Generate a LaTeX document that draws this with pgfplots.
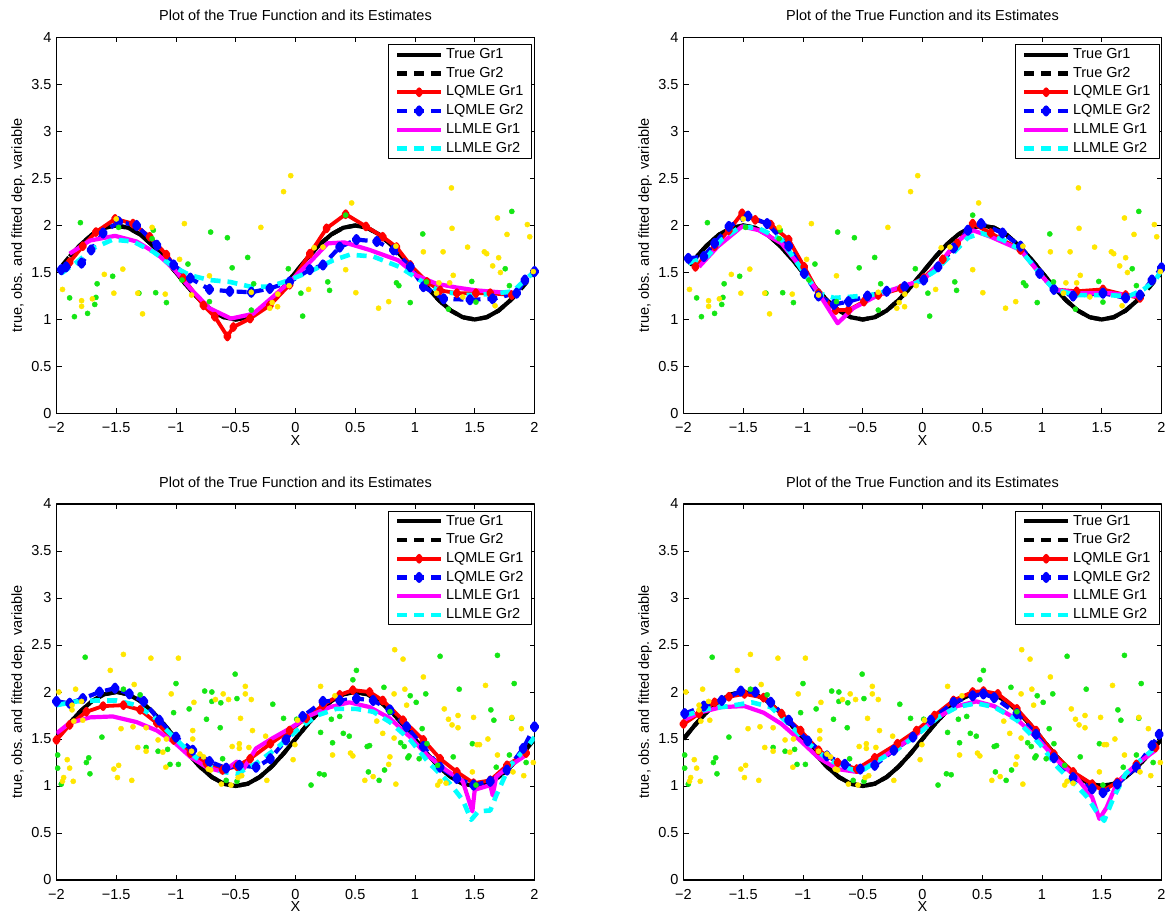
\documentclass[border=0pt]{standalone}
\usepackage{fontspec}
\setmainfont{Liberation Sans}
\usepackage{pgfplots}
\usepackage{pgfplotstable}
\pgfplotsset{compat=1.18}

\definecolor{ptgreen}{RGB}{20,230,20}
\definecolor{ptyellow}{RGB}{255,230,0}
\definecolor{lnred}{RGB}{255,0,0}
\definecolor{lnblue}{RGB}{0,0,255}
\definecolor{lnmag}{RGB}{255,0,255}
\definecolor{lncyan}{RGB}{0,255,255}

% true function, upper row (sample 1 and sample 2 cover slightly different x ranges)
\pgfplotstableread{
x y
-1.89 1.669
-1.8 1.794
-1.7 1.905
-1.6 1.976
-1.5 2.0
-1.4 1.976
-1.3 1.905
-1.2 1.794
-1.1 1.655
-1.0 1.5
-0.9 1.345
-0.8 1.206
-0.7 1.095
-0.6 1.024
-0.5 1.0
-0.4 1.024
-0.3 1.095
-0.2 1.206
-0.1 1.345
0 1.5
0.1 1.655
0.2 1.794
0.3 1.905
0.4 1.976
0.5 2.0
0.6 1.976
0.7 1.905
0.8 1.794
0.9 1.655
1.0 1.5
1.1 1.345
1.2 1.206
1.3 1.095
1.4 1.024
1.5 1.0
1.6 1.024
1.7 1.095
1.8 1.206
1.85 1.273
}\trueTopA
\pgfplotstableread{
x y
-1.95 1.578
-1.9 1.655
-1.8 1.794
-1.7 1.905
-1.6 1.976
-1.5 2.0
-1.4 1.976
-1.3 1.905
-1.2 1.794
-1.1 1.655
-1.0 1.5
-0.9 1.345
-0.8 1.206
-0.7 1.095
-0.6 1.024
-0.5 1.0
-0.4 1.024
-0.3 1.095
-0.2 1.206
-0.1 1.345
0 1.5
0.1 1.655
0.2 1.794
0.3 1.905
0.4 1.976
0.5 2.0
0.6 1.976
0.7 1.905
0.8 1.794
0.9 1.655
1.0 1.5
1.1 1.345
1.2 1.206
1.3 1.095
1.4 1.024
1.5 1.0
1.6 1.024
1.7 1.095
1.8 1.206
1.9 1.345
1.99 1.484
}\trueTopB
\pgfplotstableread{
x y
-2.0 1.5
-1.9 1.655
-1.8 1.794
-1.7 1.905
-1.6 1.976
-1.5 2.0
-1.4 1.976
-1.3 1.905
-1.2 1.794
-1.1 1.655
-1.0 1.5
-0.9 1.345
-0.8 1.206
-0.7 1.095
-0.6 1.024
-0.5 1.0
-0.4 1.024
-0.3 1.095
-0.2 1.206
-0.1 1.345
0 1.5
0.1 1.655
0.2 1.794
0.3 1.905
0.4 1.976
0.5 2.0
0.6 1.976
0.7 1.905
0.8 1.794
0.9 1.655
1.0 1.5
1.1 1.345
1.2 1.206
1.3 1.095
1.4 1.024
1.5 1.0
1.6 1.024
1.7 1.095
1.8 1.206
1.9 1.345
2.0 1.5
}\trueBot

% observations, upper row
\pgfplotstableread{
x y
-1.80 2.03
-1.89 1.23
-1.85 1.03
-1.74 1.065
-1.66 1.38
-1.67 1.235
-1.68 1.16
-1.53 1.46
-1.48 1.98
-1.20 1.86
-1.19 1.95
-1.31 1.28
-1.17 1.285
-1.08 1.18
-0.90 1.59
-0.95 1.42
-0.71 1.93
-0.57 1.87
-0.53 1.55
-0.40 1.66
-0.72 1.19
-0.37 1.10
-0.35 1.38
-0.06 1.54
0.045 1.28
0.06 1.036
0.27 1.40
0.285 1.31
0.42 2.11
0.845 1.39
0.865 1.36
0.96 1.18
1.065 1.91
1.096 1.40
1.28 1.11
1.475 1.405
1.51 1.185
1.755 1.54
1.81 2.15
1.79 1.36
}\obsTopG
\pgfplotstableread{
x y
-1.95 1.32
-1.79 1.20
-1.79 1.14
-1.70 1.22
-1.60 1.48
-1.52 1.28
-1.50 2.07
-1.445 1.536
-1.32 1.28
-1.28 1.06
-1.20 1.98
-1.09 1.27
-0.97 1.64
-0.93 2.02
-0.87 1.26
-0.72 1.465
-0.29 1.98
-0.10 2.36
-0.04 2.53
-0.37 1.29
-0.215 1.12
-0.195 1.18
-0.15 1.136
-0.148 1.27
-0.053 1.36
0.11 1.32
0.156 1.763
0.23 1.77
0.42 1.53
0.47 2.24
0.505 1.285
0.695 1.12
0.78 1.19
0.84 1.78
1.07 1.72
1.20 1.39
1.18 1.28
1.29 1.39
1.32 1.47
1.235 1.72
1.305 2.40
1.31 1.97
1.40 1.24
1.44 1.77
1.58 1.72
1.60 1.70
1.65 1.57
1.69 2.08
1.70 1.657
1.715 1.50
1.77 1.905
1.67 1.146
1.94 2.01
1.96 1.88
1.99 1.51
}\obsTopY

% observations, lower row
\pgfplotstableread{
x y
-1.76 2.37
-1.99 1.33
-1.99 1.19
-1.96 1.02
-1.73 1.30
-1.75 1.25
-1.72 1.13
-1.62 1.52
-1.44 2.03
-1.30 1.97
-1.25 1.41
-1.15 1.37
-1.07 1.39
-1.05 1.23
-0.98 1.23
-1.00 2.09
-1.02 1.78
-0.89 1.82
-0.76 2.01
-0.70 2.00
-0.70 1.90
-0.63 1.62
-0.625 1.885
-0.745 1.71
-0.505 2.19
-0.49 1.93
-0.61 1.29
-0.58 1.06
-0.49 1.05
-0.19 1.87
-0.10 1.72
0.01 1.71
0.13 1.01
0.20 1.13
0.24 1.12
0.21 1.57
0.30 1.71
0.31 1.46
0.37 1.74
0.40 1.56
0.45 1.53
0.48 2.13
0.51 2.23
0.60 1.42
0.62 1.43
0.61 1.15
0.70 1.06
0.745 1.17
0.74 2.05
0.79 1.79
0.88 1.46
0.91 1.42
0.94 1.30
0.95 1.32
0.96 1.96
1.01 1.89
1.06 1.61
1.035 1.29
1.09 1.98
1.10 1.45
1.19 1.22
1.21 2.38
1.32 1.31
1.37 2.03
1.48 1.45
1.51 1.01
1.635 1.81
1.66 1.70
1.69 2.39
1.68 1.20
1.79 1.33
1.83 2.09
1.81 1.72
1.93 1.25
}\obsBotG
\pgfplotstableread{
x y
-1.98 2.00
-1.94 1.09
-1.95 1.05
-1.91 1.28
-1.89 1.19
-1.86 1.05
-1.87 1.81
-1.84 2.03
-1.87 1.86
-1.855 1.69
-1.79 1.90
-1.78 1.70
-1.55 2.23
-1.52 1.18
-1.48 1.22
-1.49 1.09
-1.44 2.40
-1.46 1.61
-1.37 1.06
-1.36 1.63
-1.35 2.08
-1.32 1.41
-1.25 1.37
-1.25 1.62
-1.21 2.36
-1.15 1.49
-1.11 1.36
-1.04 1.98
-1.08 1.50
-1.085 1.20
-0.98 2.36
-0.86 1.59
-0.86 1.50
-0.85 1.89
-0.87 1.37
-0.80 1.34
-0.77 1.31
-0.73 1.18
-0.71 1.17
-0.67 1.92
-0.605 1.98
-0.56 1.92
-0.53 1.42
-0.47 1.45
-0.47 1.40
-0.48 1.09
-0.45 1.11
-0.39 1.41
-0.36 1.59
-0.46 1.72
-0.42 2.06
-0.42 1.98
-0.37 1.92
-0.25 1.53
-0.24 1.06
-0.54 1.01
-0.62 1.02
-0.005 1.44
-0.02 1.28
0.017 1.70
0.21 2.06
0.33 1.96
0.31 1.33
0.46 1.35
0.48 1.32
0.58 1.06
0.65 1.10
0.68 1.69
0.73 1.56
0.79 1.31
0.78 1.23
0.825 1.51
0.84 1.02
0.83 2.45
0.90 2.35
0.825 1.98
0.915 2.03
0.93 1.86
1.07 2.16
1.245 1.82
1.28 1.71
1.31 1.65
1.36 1.62
1.36 1.75
1.26 1.03
1.21 1.05
1.19 1.01
1.49 1.73
1.48 1.15
1.52 1.44
1.54 1.44
1.59 2.07
1.61 1.50
1.69 1.33
1.81 1.73
1.82 1.15
1.89 1.61
1.91 1.11
1.99 1.25
}\obsBotY

\pgfplotsset{
  panel/.style={
    scale only axis, width=478pt, height=376pt,
    anchor=south west,
    xmin=-2, xmax=2, ymin=0, ymax=4,
    xtick={-2,-1.5,-1,-0.5,0,0.5,1,1.5,2},
    ytick={0,0.5,1,1.5,2,2.5,3,3.5,4},
    xticklabels={−2,−1.5,−1,−0.5,0,0.5,1,1.5,2},
    yticklabels={0,0.5,1,1.5,2,2.5,3,3.5,4},
    tick align=inside, major tick length=5pt,
    axis line style={line width=1.2pt},
    tick style={line width=0.8pt, black},
    xticklabel style={yshift=-4pt},
    title={Plot of the True Function and its Estimates},
    title style={at={(axis description cs:0.5,1)}, anchor=base, yshift=10.6pt},
    xlabel={X},
    ylabel={true, obs. and fitted dep. variable},
    every axis x label/.style={at={(axis description cs:0.5,-0.071)}, anchor=center},
    every axis y label/.style={at={(axis description cs:-0.0805,0.5)}, anchor=center, rotate=90},
    legend cell align=left,
    legend style={at={(axis description cs:0.9958,0.9814)}, anchor=north east,
      draw=black, line width=1pt, fill=white, inner xsep=6pt, inner ysep=0.5pt,
      nodes={inner sep=2.6pt, text height=10.5pt, text depth=3pt}},
    legend image code/.code={\draw[mark repeat=2,mark phase=2,#1]
      plot coordinates {(0pt,0pt) (22pt,0pt) (44pt,0pt)};},
    line join=round,
  },
  trueA/.style={black, line width=4.2pt, no markers},
  trueB/.style={black, line width=4.2pt, no markers, dash pattern=on 10pt off 7pt},
  lqA/.style={lnred, line width=3.8pt, mark=diamond*, mark size=3pt, mark options={solid}},
  lqB/.style={lnblue, line width=4.2pt, dash pattern=on 10pt off 7pt, mark=diamond*, mark size=3.5pt, mark options={solid}},
  llA/.style={lnmag, line width=4.2pt, no markers},
  llB/.style={lncyan, line width=4.6pt, no markers, dash pattern=on 10pt off 7pt},
  obsG/.style={only marks, mark=*, mark size=2.6pt, ptgreen, forget plot},
  obsY/.style={only marks, mark=*, mark size=2.6pt, ptyellow, forget plot},
}

\begin{document}
\fontsize{14.5}{17}\selectfont
\begin{tikzpicture}
\useasboundingbox (0,0) rectangle (1165pt,914pt);

% ---------------- top left
\begin{axis}[panel, at={(56.5pt,500.5pt)}]
\addplot[trueA] table {\trueTopA};
\addplot[trueB] table {\trueTopB};
\addplot[lqA] coordinates {(-1.89,1.61) (-1.78,1.78) (-1.67,1.93) (-1.51,2.07) (-1.36,2.02) (-1.22,1.88) (-1.08,1.69) (-0.94,1.44) (-0.77,1.15) (-0.675,1.03) (-0.57,0.82) (-0.52,0.92) (-0.38,1.01) (-0.215,1.15) (-0.05,1.37) (0.12,1.70) (0.26,1.97) (0.42,2.12) (0.59,1.99) (0.73,1.88) (0.845,1.77) (0.96,1.58) (1.10,1.40) (1.21,1.31) (1.35,1.28) (1.51,1.28) (1.63,1.28) (1.81,1.26)};
\addplot[lqB] coordinates {(-1.96,1.53) (-1.92,1.56) (-1.79,1.60) (-1.71,1.74) (-1.61,1.92) (-1.48,2.04) (-1.33,2.00) (-1.16,1.79) (-1.02,1.58) (-0.88,1.44) (-0.72,1.32) (-0.55,1.30) (-0.37,1.29) (-0.215,1.33) (-0.05,1.40) (0.12,1.53) (0.23,1.58) (0.37,1.77) (0.51,1.85) (0.68,1.83) (0.82,1.74) (0.96,1.56) (1.07,1.35) (1.24,1.22) (1.46,1.21) (1.65,1.22) (1.85,1.28) (1.92,1.42) (2.0,1.51)};
\addplot[llA] coordinates {(-1.89,1.70) (-1.72,1.84) (-1.51,1.89) (-1.33,1.83) (-1.16,1.70) (-1.02,1.54) (-0.88,1.33) (-0.72,1.12) (-0.54,1.01) (-0.355,1.06) (-0.19,1.24) (-0.05,1.40) (0.12,1.61) (0.27,1.81) (0.41,1.82) (0.62,1.74) (0.86,1.63) (1.01,1.47) (1.18,1.38) (1.35,1.34) (1.51,1.31) (1.71,1.29) (1.81,1.29)};
\addplot[llB] coordinates {(-1.96,1.49) (-1.83,1.61) (-1.69,1.76) (-1.53,1.85) (-1.36,1.83) (-1.19,1.72) (-1.02,1.56) (-0.88,1.47) (-0.72,1.42) (-0.55,1.40) (-0.38,1.35) (-0.215,1.35) (-0.05,1.42) (0.12,1.51) (0.315,1.63) (0.455,1.69) (0.65,1.67) (0.87,1.56) (1.04,1.42) (1.21,1.30) (1.43,1.26) (1.63,1.27) (1.82,1.30) (1.92,1.42) (2.0,1.51)};
\addplot[obsG] table {\obsTopG};
\addplot[obsY] table {\obsTopY};
\legend{True Gr1,True Gr2,LQMLE Gr1,LQMLE Gr2,LLMLE Gr1,LLMLE Gr2}
\end{axis}

% ---------------- top right
\begin{axis}[panel, at={(683.5pt,500.5pt)}]
\addplot[trueA] table {\trueTopA};
\addplot[trueB] table {\trueTopB};
\addplot[lqA] coordinates {(-1.90,1.56) (-1.74,1.78) (-1.62,1.95) (-1.51,2.13) (-1.40,2.06) (-1.27,2.01) (-1.12,1.85) (-0.99,1.56) (-0.87,1.28) (-0.725,1.10) (-0.62,1.10) (-0.49,1.19) (-0.37,1.26) (-0.18,1.33) (0.01,1.44) (0.17,1.64) (0.29,1.81) (0.42,2.02) (0.57,1.92) (0.82,1.74) (0.98,1.49) (1.10,1.32) (1.29,1.30) (1.51,1.32) (1.70,1.26) (1.82,1.23)};
\addplot[lqB] coordinates {(-1.96,1.65) (-1.83,1.67) (-1.74,1.81) (-1.62,1.99) (-1.46,2.10) (-1.30,2.02) (-1.12,1.78) (-0.99,1.49) (-0.87,1.25) (-0.74,1.16) (-0.62,1.19) (-0.46,1.25) (-0.30,1.30) (-0.15,1.35) (0.01,1.42) (0.13,1.56) (0.26,1.76) (0.38,1.95) (0.49,2.02) (0.67,1.92) (0.82,1.78) (0.98,1.49) (1.10,1.32) (1.26,1.25) (1.51,1.28) (1.70,1.23) (1.82,1.26) (1.92,1.42) (2.0,1.55)};
\addplot[llA] coordinates {(-1.87,1.56) (-1.71,1.78) (-1.51,1.99) (-1.37,1.95) (-1.18,1.81) (-0.99,1.51) (-0.87,1.28) (-0.71,0.96) (-0.58,1.12) (-0.37,1.26) (-0.18,1.35) (0.01,1.42) (0.17,1.64) (0.29,1.83) (0.42,1.95) (0.57,1.88) (0.82,1.74) (0.98,1.49) (1.10,1.32) (1.32,1.28) (1.57,1.28) (1.79,1.25)};
\addplot[llB] coordinates {(-1.96,1.60) (-1.80,1.67) (-1.68,1.85) (-1.52,1.99) (-1.37,1.97) (-1.18,1.85) (-0.99,1.49) (-0.87,1.28) (-0.74,1.23) (-0.62,1.24) (-0.43,1.26) (-0.24,1.32) (-0.05,1.39) (0.10,1.51) (0.26,1.71) (0.38,1.87) (0.49,1.92) (0.67,1.85) (0.82,1.74) (0.98,1.49) (1.10,1.32) (1.29,1.26) (1.51,1.26) (1.73,1.25) (1.85,1.32) (1.95,1.42) (2.0,1.53)};
\addplot[obsG] table {\obsTopG};
\addplot[obsY] table {\obsTopY};
\legend{True Gr1,True Gr2,LQMLE Gr1,LQMLE Gr2,LLMLE Gr1,LLMLE Gr2}
\end{axis}

% ---------------- bottom left
\begin{axis}[panel, at={(56.5pt,34pt)}]
\addplot[trueA] table {\trueBot};
\addplot[trueB] table {\trueBot};
\addplot[lqA] coordinates {(-2.0,1.49) (-1.89,1.65) (-1.75,1.79) (-1.61,1.85) (-1.44,1.86) (-1.30,1.81) (-1.16,1.67) (-1.02,1.49) (-0.88,1.35) (-0.745,1.24) (-0.61,1.17) (-0.49,1.21) (-0.38,1.29) (-0.21,1.45) (-0.05,1.59) (0.09,1.72) (0.23,1.86) (0.37,1.97) (0.48,2.02) (0.62,2.00) (0.73,1.91) (0.90,1.70) (1.07,1.49) (1.21,1.29) (1.35,1.15) (1.49,1.03) (1.63,1.06) (1.77,1.22) (1.93,1.35)};
\addplot[lqB] coordinates {(-2.0,1.90) (-1.89,1.88) (-1.78,1.93) (-1.64,2.00) (-1.51,2.04) (-1.39,1.98) (-1.27,1.90) (-1.14,1.70) (-1.0,1.52) (-0.86,1.38) (-0.72,1.26) (-0.58,1.19) (-0.47,1.22) (-0.33,1.20) (-0.21,1.29) (-0.08,1.49) (0.06,1.74) (0.23,1.90) (0.37,1.91) (0.51,1.93) (0.65,1.91) (0.79,1.81) (0.93,1.63) (1.07,1.42) (1.21,1.20) (1.35,1.08) (1.49,1.01) (1.63,1.05) (1.77,1.17) (1.905,1.40) (2.0,1.63)};
\addplot[llA] coordinates {(-2.0,1.56) (-1.89,1.67) (-1.72,1.73) (-1.53,1.74) (-1.33,1.68) (-1.16,1.59) (-1.02,1.47) (-0.88,1.31) (-0.745,1.20) (-0.61,1.15) (-0.49,1.26) (-0.45,1.15) (-0.33,1.40) (-0.19,1.51) (-0.05,1.61) (0.12,1.75) (0.29,1.84) (0.45,1.89) (0.62,1.84) (0.79,1.72) (0.96,1.52) (1.10,1.33) (1.26,1.17) (1.40,1.05) (1.48,0.73) (1.50,0.96) (1.63,1.01) (1.65,0.90) (1.68,1.10) (1.79,1.21) (1.93,1.33)};
\addplot[llB] coordinates {(-2.0,1.86) (-1.83,1.90) (-1.665,1.91) (-1.50,1.91) (-1.33,1.86) (-1.19,1.74) (-1.05,1.56) (-0.88,1.35) (-0.745,1.22) (-0.61,1.15) (-0.49,1.13) (-0.33,1.24) (-0.16,1.40) (0.01,1.59) (0.18,1.75) (0.34,1.82) (0.51,1.82) (0.65,1.79) (0.79,1.68) (0.96,1.49) (1.12,1.24) (1.29,1.03) (1.40,0.85) (1.47,0.64) (1.53,0.73) (1.63,0.74) (1.68,0.90) (1.79,1.21) (1.96,1.45) (2.0,1.52)};
\addplot[obsG] table {\obsBotG};
\addplot[obsY] table {\obsBotY};
\legend{True Gr1,True Gr2,LQMLE Gr1,LQMLE Gr2,LLMLE Gr1,LLMLE Gr2}
\end{axis}

% ---------------- bottom right
\begin{axis}[panel, at={(683.5pt,34pt)}]
\addplot[trueA] table {\trueBot};
\addplot[trueB] table {\trueBot};
\addplot[lqA] coordinates {(-2.0,1.66) (-1.87,1.77) (-1.74,1.89) (-1.62,1.95) (-1.49,1.98) (-1.33,1.94) (-1.18,1.77) (-1.02,1.59) (-0.87,1.38) (-0.71,1.25) (-0.55,1.18) (-0.40,1.30) (-0.21,1.45) (-0.05,1.59) (0.10,1.75) (0.26,1.91) (0.42,2.00) (0.51,2.01) (0.63,1.98) (0.79,1.82) (0.95,1.59) (1.10,1.34) (1.26,1.15) (1.42,1.02) (1.51,0.95) (1.63,1.04) (1.79,1.23) (1.95,1.41)};
\addplot[lqB] coordinates {(-1.99,1.77) (-1.83,1.85) (-1.68,1.91) (-1.52,2.01) (-1.40,2.00) (-1.27,1.89) (-1.12,1.70) (-0.96,1.48) (-0.80,1.32) (-0.65,1.23) (-0.52,1.18) (-0.40,1.22) (-0.24,1.38) (-0.08,1.52) (0.07,1.70) (0.26,1.89) (0.42,1.96) (0.51,1.98) (0.60,1.94) (0.79,1.77) (0.95,1.55) (1.10,1.30) (1.26,1.09) (1.42,0.97) (1.51,0.93) (1.63,1.02) (1.79,1.20) (1.92,1.43) (1.98,1.55)};
\addplot[llA] coordinates {(-2.0,1.70) (-1.87,1.78) (-1.68,1.84) (-1.49,1.85) (-1.33,1.78) (-1.18,1.66) (-1.02,1.48) (-0.87,1.30) (-0.71,1.18) (-0.55,1.15) (-0.40,1.25) (-0.21,1.41) (-0.05,1.55) (0.13,1.73) (0.29,1.85) (0.45,1.90) (0.60,1.85) (0.79,1.71) (0.95,1.52) (1.13,1.27) (1.29,1.09) (1.42,0.88) (1.48,0.65) (1.54,0.77) (1.63,1.04) (1.79,1.23) (1.95,1.38)};
\addplot[llB] coordinates {(-1.99,1.75) (-1.80,1.82) (-1.62,1.85) (-1.43,1.89) (-1.27,1.84) (-1.12,1.66) (-0.96,1.46) (-0.80,1.29) (-0.65,1.20) (-0.52,1.15) (-0.40,1.25) (-0.21,1.39) (-0.02,1.57) (0.13,1.73) (0.29,1.84) (0.45,1.88) (0.60,1.84) (0.79,1.70) (0.98,1.45) (1.13,1.20) (1.29,1.00) (1.38,0.88) (1.45,0.74) (1.52,0.63) (1.60,0.88) (1.70,1.13) (1.82,1.27) (1.95,1.41)};
\addplot[obsG] table {\obsBotG};
\addplot[obsY] table {\obsBotY};
\legend{True Gr1,True Gr2,LQMLE Gr1,LQMLE Gr2,LLMLE Gr1,LLMLE Gr2}
\end{axis}
\end{tikzpicture}
\end{document}
